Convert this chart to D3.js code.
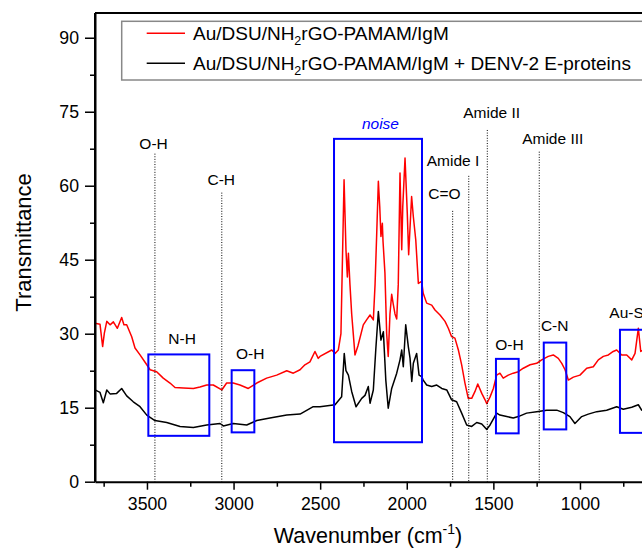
<!DOCTYPE html>
<html>
<head>
<meta charset="utf-8">
<script src="https://cdn.jsdelivr.net/npm/d3@7"></script>
<style>
  html, body { margin: 0; padding: 0; background: #fff; overflow: hidden; }
  svg { display: block; }
  text { font-family: Arial, "Liberation Sans", sans-serif; fill: #000; }
</style>
</head>
<body>
<svg id="chart" width="642" height="548"></svg>
<script>
// ---------------- data ----------------
const seriesNames = ["Au/DSU/NH|2|rGO-PAMAM/IgM", "Au/DSU/NH|2|rGO-PAMAM/IgM + DENV-2 E-proteins"];
const seriesColors = ["#ff0000", "#000000"];

// red: Au/DSU/NH2rGO-PAMAM/IgM  [wavenumber, transmittance]
const redWn = [3800,3771,3756,3746,3732,3713,3694,3671,3646,3633,3617,3588,3569,3540,3501,3482,3444,3406,3367,3338,3290,3232,3194,3155,3117,3068,3040,3002,2963,2915,2866,2809,2751,2693,2655,2616,2588,2559,2530,2511,2501,2433,2414,2395,2380,2362,2351,2343,2337,2328,2318,2299,2282,2251,2232,2212,2193,2183,2174,2164,2156,2149,2141,2137,2126,2116,2107,2097,2087,2078,2068,2058,2049,2039,2029,2023,2010,1997,1989,1972,1962,1948,1933,1914,1905,1885,1856,1837,1808,1779,1760,1741,1722,1702,1683,1664,1645,1625,1606,1590,1567,1548,1538,1519,1500,1481,1462,1443,1414,1385,1356,1327,1288,1250,1221,1183,1154,1125,1105,1086,1067,1038,1000,961,923,894,865,836,808,788,759,730,701,682,663,649,620];
const redT  = [32.1,31.9,27.4,30.1,32.5,31.8,32.4,31.1,33.3,31.8,31.8,29.4,27.1,25.7,23.7,22.7,22.3,21.0,20.0,19.1,19.0,18.9,19.2,19.6,19.6,18.6,20.0,20.0,19.6,18.9,20.0,21.0,21.6,22.5,22.0,22.7,23.7,24.3,26.4,25.0,25.4,26.7,26.0,26.7,30.0,61.2,47.0,41.5,46.3,40.0,34.0,25.7,27.5,31.8,32.8,33.8,32.8,40.0,49.7,60.9,55.8,49.7,52.4,48.7,42.3,30.0,25.4,34.0,38.0,36.0,34.0,33.0,40.0,62.6,47.0,55.8,65.6,54.4,46.0,57.8,53.7,49.0,40.2,40.6,38.2,36.2,35.8,34.8,33.8,32.5,31.1,29.4,29.1,26.7,23.7,20.0,16.9,16.9,18.3,19.8,17.9,16.6,15.8,17.2,18.9,21.6,22.0,21.0,21.6,22.0,22.3,23.0,23.7,24.0,24.7,25.4,25.7,25.0,24.0,22.7,20.6,21.2,21.6,23.0,23.3,24.7,25.4,25.7,26.4,26.7,25.7,25.7,24.7,26.0,31.1,26.4,27.0];

// black: + DENV-2 E-proteins
const blackWn = [3800,3771,3752,3732,3713,3675,3646,3617,3579,3540,3501,3454,3386,3309,3232,3155,3078,3059,3002,2924,2866,2790,2693,2616,2540,2501,2414,2376,2361,2351,2337,2318,2293,2260,2241,2222,2212,2193,2179,2164,2149,2135,2121,2107,2087,2058,2039,2029,2020,2006,1991,1981,1971,1962,1943,1929,1914,1905,1885,1856,1827,1798,1769,1741,1712,1683,1654,1625,1596,1567,1538,1519,1481,1462,1423,1385,1356,1308,1250,1192,1134,1096,1058,1029,990,952,903,846,788,750,701,663,644,620];
const blackT  = [18.6,18.1,16.0,18.6,17.8,17.9,18.9,17.4,16.2,15.2,13.5,12.4,12.0,11.2,11.0,11.5,11.8,11.3,11.8,11.5,12.4,12.9,13.5,13.7,15.2,15.2,15.6,17.2,26.0,22.5,21.6,18.3,15.2,16.9,17.5,19.3,15.9,18.6,26.7,34.5,28.7,30.4,20.6,14.9,18.9,22.0,24.7,26.7,23.3,31.8,27.4,25.0,20.3,24.0,26.0,21.6,21.3,20.6,19.6,19.3,19.6,18.9,18.6,16.6,16.2,13.9,11.5,11.2,12.0,11.7,10.6,11.5,13.9,13.5,13.2,12.9,13.2,13.9,14.2,14.5,14.5,14.0,13.2,11.8,13.2,13.7,14.2,14.5,15.2,14.7,15.1,15.6,14.5,15.0];

const xTicks = [3500, 3000, 2500, 2000, 1500, 1000];
const xMinor = [3750, 3250, 2750, 2250, 1750, 1250, 750];
const yTicks = [0, 15, 30, 45, 60, 75, 90];
const yMinor = [7.5, 22.5, 37.5, 52.5, 67.5, 82.5];

// dotted marker lines: label, wavenumber, top of line (T), label centre wn, label baseline (T)
const markLabels = ["O-H", "C-H", "C=O", "Amide I", "Amide II", "Amide III"];
const markWn     = [3454, 3068, 1735, 1642, 1535, 1235];
const markTop    = [66.5, 58.6, 54.9, 62.0, 71.3, 66.9];
const markTextWn = [3462, 3071, 1782, 1733, 1510, 1157];
const markTextT  = [67.5, 60.2, 57.3, 63.9, 73.7, 68.5];

// blue boxes: label, wn from, wn to, T low, T high, label centre wn, label baseline T
const boxLabels = ["N-H", "O-H", "noise", "O-H", "C-N", "Au-S"];
const boxWn0 = [3492, 3011, 2420, 1485, 1209, 769];
const boxWn1 = [3140, 2880, 1912, 1354, 1079, 560];
const boxT0  = [9.3, 10.0, 8.0, 9.8, 10.6, 9.9];
const boxT1  = [25.8, 22.6, 69.5, 24.9, 28.2, 30.8];
const boxTextWn = [3297, 2904, 2152, 1407, 1146, 731];
const boxTextT  = [27.9, 24.8, 71.5, 26.6, 30.6, 33.2];

// ---------------- layout ----------------
const svg = d3.select("#chart");
const left = 95, bottom = 481.7;
const x = d3.scaleLinear().domain([3800, 400]).range([left, left + 3400 * 0.1732]);
const y = d3.scaleLinear().domain([0, 95]).range([bottom, bottom - 95 * 4.933]);

const tickFont = "17.7px";

// curves
const line = d3.line().x(d => x(d[0])).y(d => y(d[1]));
const redData = redWn.map((w, i) => [w, redT[i]]);
const blackData = blackWn.map((w, i) => [w, blackT[i]]);

const plot = svg.append("g");
plot.append("path").datum(blackData).attr("d", line)
  .attr("fill", "none").attr("stroke", seriesColors[1]).attr("stroke-width", 1.5).attr("stroke-linejoin", "round");
plot.append("path").datum(redData).attr("d", line)
  .attr("fill", "none").attr("stroke", seriesColors[0]).attr("stroke-width", 1.5).attr("stroke-linejoin", "round");

// dotted lines
markWn.forEach((w, i) => {
  svg.append("line")
    .attr("x1", x(w)).attr("x2", x(w))
    .attr("y1", y(markTop[i])).attr("y2", y(0))
    .attr("stroke", "#000").attr("stroke-width", 1)
    .attr("stroke-dasharray", "1,1.6");
  svg.append("text")
    .attr("x", x(markTextWn[i])).attr("y", y(markTextT[i]))
    .attr("text-anchor", "middle").style("font-size", "15.5px")
    .text(markLabels[i]);
});

// blue boxes
boxWn0.forEach((w, i) => {
  const x0 = x(w), x1 = x(boxWn1[i]);
  svg.append("rect")
    .attr("x", x0).attr("y", y(boxT1[i]))
    .attr("width", x1 - x0).attr("height", y(boxT0[i]) - y(boxT1[i]))
    .attr("fill", "none").attr("stroke", "#0000ff").attr("stroke-width", 2);
  const t = svg.append("text")
    .attr("x", x(boxTextWn[i])).attr("y", y(boxTextT[i]))
    .attr("text-anchor", "middle").style("font-size", "15.5px")
    .text(boxLabels[i]);
  if (boxLabels[i] === "noise") t.style("font-style", "italic").style("fill", "#0000ff");
});

// axes
const yAxis = d3.axisLeft(y).tickValues(yTicks).tickSize(10).tickSizeOuter(0).tickPadding(6).tickFormat(d3.format("d"));
const yMinorAxis = d3.axisLeft(y).tickValues(yMinor).tickSize(5).tickFormat("");
const xAxis = d3.axisBottom(x).tickValues(xTicks).tickSize(8).tickSizeOuter(0).tickPadding(8).tickFormat(d3.format("d"));
const xMinorAxis = d3.axisBottom(x).tickValues(xMinor).tickSize(5).tickFormat("");

svg.append("g").attr("transform", `translate(${left},0)`).call(yAxis);
svg.append("g").attr("transform", `translate(${left},0)`).call(yMinorAxis).select(".domain").remove();
svg.append("g").attr("transform", `translate(0,${bottom})`).call(xAxis);
svg.append("g").attr("transform", `translate(0,${bottom})`).call(xMinorAxis).select(".domain").remove();

svg.selectAll(".tick line").attr("stroke", "#000").attr("stroke-width", 1.5);
svg.selectAll(".domain").attr("stroke", "#000").attr("stroke-width", 2);
svg.selectAll(".tick text").style("font-size", tickFont).style("font-family", "Arial, 'Liberation Sans', sans-serif");

// top frame
svg.append("line").attr("x1", left).attr("x2", x(400)).attr("y1", y(95)).attr("y2", y(95))
  .attr("stroke", "#000").attr("stroke-width", 2);
svg.append("line").attr("x1", left).attr("x2", left).attr("y1", y(95)).attr("y2", bottom)
  .attr("stroke", "#000").attr("stroke-width", 2);

// axis titles
svg.append("text")
  .attr("transform", `translate(31, ${y(48.5)}) rotate(-90)`)
  .attr("text-anchor", "middle").style("font-size", "22px")
  .text("Transmittance");
const xt = svg.append("text")
  .attr("x", 368).attr("y", 543)
  .attr("text-anchor", "middle").style("font-size", "21.5px");
xt.append("tspan").text("Wavenumber (cm");
xt.append("tspan").attr("dy", -9).style("font-size", "14px").text("-1");
xt.append("tspan").attr("dy", 9).text(")");

// legend
const lg = svg.append("g");
lg.append("rect").attr("x", 121.7).attr("y", 21.3).attr("width", 560).attr("height", 58.7)
  .attr("fill", "#fff").attr("stroke", "#888").attr("stroke-width", 1.5);
seriesNames.forEach((name, i) => {
  const ly = 33.3 + i * 30;
  lg.append("line").attr("x1", 146.7).attr("x2", 185).attr("y1", ly).attr("y2", ly)
    .attr("stroke", seriesColors[i]).attr("stroke-width", 1.5);
  const parts = name.split("|");
  const t = lg.append("text").attr("x", 193).attr("y", ly + 6.8).style("font-size", "19px");
  t.append("tspan").text(parts[0]);
  t.append("tspan").attr("dy", 5).style("font-size", "12.5px").text(parts[1]);
  t.append("tspan").attr("dy", -5).text(parts[2]);
});
</script>
</body>
</html>
